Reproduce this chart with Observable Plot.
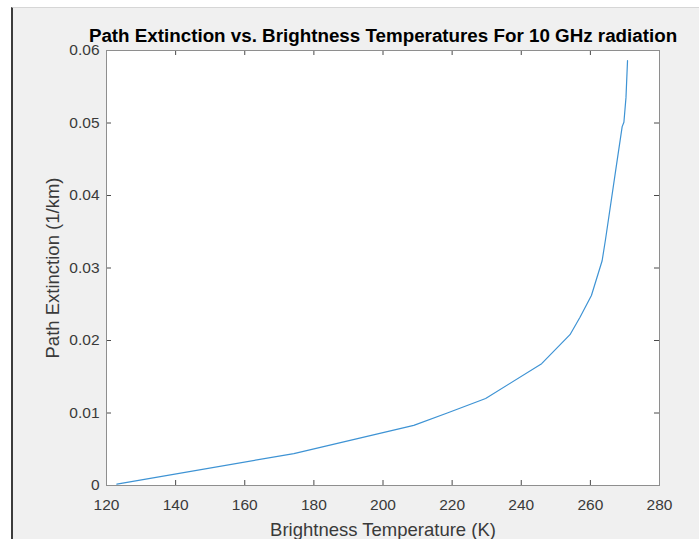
<!DOCTYPE html>
<html>
<head>
<meta charset="utf-8">
<script src="https://cdn.jsdelivr.net/npm/d3@7"></script>
<script src="https://cdn.jsdelivr.net/npm/@observablehq/plot@0.6"></script>
<style>
  body { margin: 0; background: #ffffff; }
  #fig { position: relative; width: 699px; height: 539px; overflow: hidden; background: #ffffff; }
  #win { position: absolute; left: 11px; top: 7px; right: 0; bottom: 0; background: #f0f0f0;
         border-left: 2px solid #3c3c3c; border-top: 1px solid #d6d6d6; }
  #chart { position: absolute; left: 0; top: 0; }
</style>
</head>
<body>
<div id="fig"><div id="win"></div><div id="chart"></div></div>
<script>
// Brightness temperature (K) and path extinction (1/km) at 10 GHz
const temperature = [123.0, 174.2, 208.9, 218.6, 229.7, 245.9, 254.1, 257.0, 260.3, 263.4, 264.4, 267.3, 269.2, 269.7, 270.3, 270.75];
const extinction  = [0.0002, 0.0044, 0.0083, 0.0100, 0.0120, 0.0168, 0.0208, 0.0232, 0.0262, 0.0310, 0.0340, 0.0434, 0.0495, 0.0501, 0.0535, 0.0586];

const xTicks = [120, 140, 160, 180, 200, 220, 240, 260, 280];
const yTicks = [0, 0.01, 0.02, 0.03, 0.04, 0.05, 0.06];

const titleText = "Path Extinction vs. Brightness Temperatures For 10 GHz radiation";
const xLabel = "Brightness Temperature (K)";
const yLabel = "Path Extinction (1/km)";

const rows = temperature.map((t, i) => ({t, e: extinction[i]}));

const W = 699, H = 539;
const mL = 106, mR = 40, mT = 50, mB = 54;
const innerW = W - mL - mR, innerH = H - mT - mB;
const tickLen = 5;
const textColor = "#3a3a3a";
const tickColor = "#4a4a4a";

const chart = Plot.plot({
  width: W,
  height: H,
  marginLeft: mL,
  marginRight: mR,
  marginTop: mT,
  marginBottom: mB,
  style: {background: "transparent", fontFamily: "'Liberation Sans', Arial, sans-serif", color: textColor},
  x: {domain: [120, 280]},
  y: {domain: [0, 0.06]},
  marks: [
    Plot.frame({fill: "white", stroke: "none"}),
    // inward ticks on all four sides
    Plot.tickX(xTicks, {x: d => d, insetTop: innerH - tickLen, stroke: tickColor}),
    Plot.tickX(xTicks, {x: d => d, insetBottom: innerH - tickLen, stroke: tickColor}),
    Plot.tickY(yTicks, {y: d => d, insetRight: innerW - tickLen, stroke: tickColor}),
    Plot.tickY(yTicks, {y: d => d, insetLeft: innerW - tickLen, stroke: tickColor}),
    Plot.frame({stroke: "#8e8e8e", strokeWidth: 1}),
    Plot.axisX(xTicks, {anchor: "bottom", tickSize: 0, tickPadding: 13, fontSize: 15.5, fill: textColor, label: null}),
    Plot.axisY(yTicks, {anchor: "left", tickSize: 0, tickPadding: 7, fontSize: 15.5, fill: textColor, label: null,
      tickFormat: d => String(+d.toFixed(2))}),
    Plot.line(rows, {x: "t", y: "e", stroke: "#3e93d4", strokeWidth: 1.2}),
    Plot.text([xLabel], {frameAnchor: "bottom", lineAnchor: "top", dy: 37, fontSize: 18.5, fill: textColor}),
    Plot.text([yLabel], {frameAnchor: "left", textAnchor: "middle", rotate: -90, dx: -53, fontSize: 18.5, fill: textColor}),
    Plot.text([titleText], {frameAnchor: "top", lineAnchor: "middle", dy: -15, fontSize: 18.8, fontWeight: "bold", fill: "#000"})
  ]
});
document.getElementById("chart").appendChild(chart);
</script>
</body>
</html>
